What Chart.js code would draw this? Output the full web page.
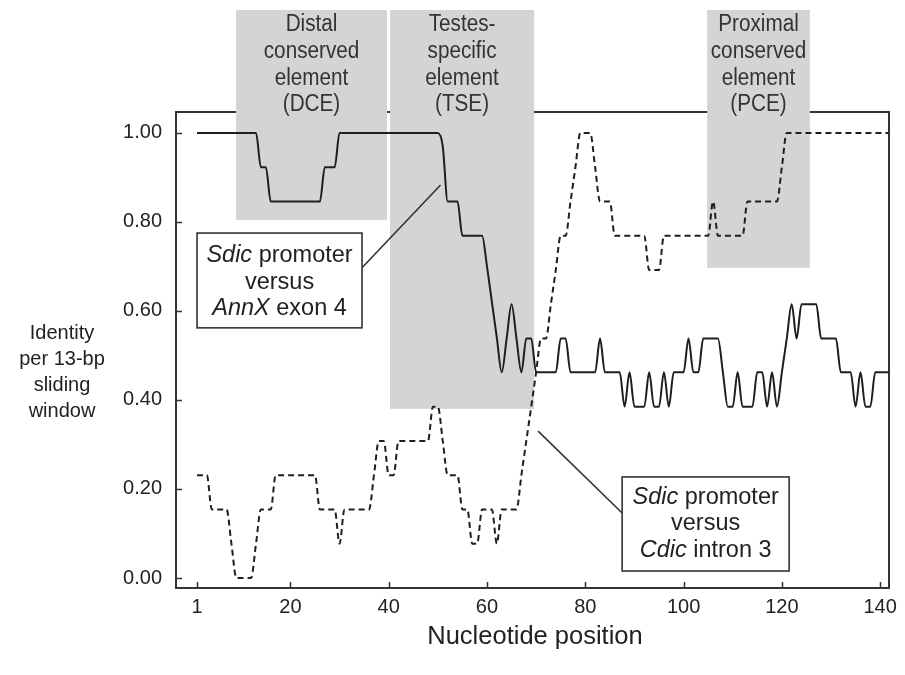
<!DOCTYPE html>
<html>
<head>
<meta charset="utf-8">
<title>Sdic promoter identity</title>
<script src="https://cdn.jsdelivr.net/npm/chart.js@4.4.1/dist/chart.umd.min.js"></script>
<style>
  html, body { margin: 0; padding: 0; background: #fff; }
  #wrap { width: 905px; height: 675px; }
</style>
</head>
<body>
<div id="wrap"><canvas id="chart" width="905" height="675"></canvas></div>
<script>
// identity per 13-bp sliding window, one value per nucleotide position (1..142)
const annxExon4 = [
  1, 1, 1, 1, 1, 1, 1, 1, 1, 1,
  1, 1, 1, 0.923, 0.923, 0.846, 0.846, 0.846, 0.846, 0.846,
  0.846, 0.846, 0.846, 0.846, 0.846, 0.846, 0.923, 0.923, 0.923, 1,
  1, 1, 1, 1, 1, 1, 1, 1, 1, 1,
  1, 1, 1, 1, 1, 1, 1, 1, 1, 1,
  0.97, 0.846, 0.846, 0.846, 0.769, 0.769, 0.769, 0.769, 0.769, 0.7,
  0.62, 0.54, 0.462, 0.538, 0.615, 0.538, 0.462, 0.538, 0.538, 0.462,
  0.462, 0.462, 0.462, 0.462, 0.538, 0.538, 0.462, 0.462, 0.462, 0.462,
  0.462, 0.462, 0.538, 0.462, 0.462, 0.462, 0.462, 0.385, 0.462, 0.385,
  0.385, 0.385, 0.462, 0.385, 0.385, 0.462, 0.385, 0.462, 0.462, 0.462,
  0.538, 0.462, 0.462, 0.538, 0.538, 0.538, 0.538, 0.462, 0.385, 0.385,
  0.462, 0.385, 0.385, 0.385, 0.462, 0.462, 0.385, 0.462, 0.385, 0.462,
  0.538, 0.615, 0.538, 0.615, 0.615, 0.615, 0.615, 0.538, 0.538, 0.538,
  0.538, 0.462, 0.462, 0.462, 0.385, 0.462, 0.385, 0.385, 0.462, 0.462,
  0.462, 0.462
];

const cdicIntron3 = [
  0.231, 0.231, 0.231, 0.154, 0.154, 0.154, 0.154, 0.077, 0, 0,
  0, 0, 0.077, 0.154, 0.154, 0.154, 0.231, 0.231, 0.231, 0.231,
  0.231, 0.231, 0.231, 0.231, 0.231, 0.154, 0.154, 0.154, 0.154, 0.077,
  0.154, 0.154, 0.154, 0.154, 0.154, 0.154, 0.231, 0.308, 0.308, 0.231,
  0.231, 0.308, 0.308, 0.308, 0.308, 0.308, 0.308, 0.308, 0.385, 0.385,
  0.308, 0.231, 0.231, 0.231, 0.154, 0.154, 0.077, 0.077, 0.154, 0.154,
  0.154, 0.077, 0.154, 0.154, 0.154, 0.154, 0.231, 0.308, 0.385, 0.462,
  0.538, 0.538, 0.615, 0.692, 0.769, 0.769, 0.846, 0.923, 1, 1,
  1, 0.923, 0.846, 0.846, 0.846, 0.769, 0.769, 0.769, 0.769, 0.769,
  0.769, 0.769, 0.692, 0.692, 0.692, 0.769, 0.769, 0.769, 0.769, 0.769,
  0.769, 0.769, 0.769, 0.769, 0.769, 0.846, 0.769, 0.769, 0.769, 0.769,
  0.769, 0.769, 0.846, 0.846, 0.846, 0.846, 0.846, 0.846, 0.846, 0.923,
  1, 1, 1, 1, 1, 1, 1, 1, 1, 1,
  1, 1, 1, 1, 1, 1, 1, 1, 1, 1,
  1, 1
];

const xTickValues = [1, 20, 40, 60, 80, 100, 120, 140];
const yTickValues = [0, 0.2, 0.4, 0.6, 0.8, 1.0];

// shaded sequence elements: nucleotide span and label
const elementSpans = [[8.93, 39.66], [40.27, 69.58], [104.8, 125.7]];
const elementLabels = [
  ["Distal", "conserved", "element", "(DCE)"],
  ["Testes-", "specific", "element", "(TSE)"],
  ["Proximal", "conserved", "element", "(PCE)"]
];

// callout texts: [text, italic]
const calloutTexts = [
  [[["Sdic", true], [" promoter", false]], [["versus", false]], [["AnnX", true], [" exon 4", false]]],
  [[["Sdic", true], [" promoter", false]], [["versus", false]], [["Cdic", true], [" intron 3", false]]]
];

const yTitleLines = ["Identity", "per 13-bp", "sliding", "window"];
const xTitle = "Nucleotide position";

const FONT = '"Liberation Sans", Arial, Helvetica, sans-serif';
const INK = "#222";

const toPoints = (arr) => arr.map((v, i) => ({ x: i + 1, y: v }));

const decor = {
  id: "decor",
  beforeDatasetsDraw(chart) {
    const { ctx, chartArea: a, scales } = chart;
    const x = scales.x, y = scales.y;
    ctx.save();
    // frame
    ctx.strokeStyle = "#333";
    ctx.lineWidth = 2;
    ctx.strokeRect(a.left, a.top, a.right - a.left, a.bottom - a.top);
    // inward tick marks
    ctx.lineWidth = 1.5;
    ctx.beginPath();
    yTickValues.forEach((v) => {
      const py = Math.round(y.getPixelForValue(v)) + 0.5;
      ctx.moveTo(a.left, py);
      ctx.lineTo(a.left + 6, py);
    });
    xTickValues.forEach((v) => {
      const px = Math.round(x.getPixelForValue(v)) + 0.5;
      ctx.moveTo(px, a.bottom);
      ctx.lineTo(px, a.bottom - 6);
    });
    ctx.stroke();

    // grey element boxes, reaching above the frame
    const bottoms = [0.804, 0.38, 0.697];
    const boxTop = 10;
    elementSpans.forEach((span, i) => {
      const l = x.getPixelForValue(span[0]);
      const r = x.getPixelForValue(span[1]);
      const b = y.getPixelForValue(bottoms[i]);
      ctx.fillStyle = "#d4d4d4";
      ctx.fillRect(l, boxTop, r - l, b - boxTop);
      ctx.fillStyle = "#333";
      ctx.font = "23px " + FONT;
      ctx.textAlign = "center";
      ctx.textBaseline = "middle";
      const cx = (l + r) / 2;
      elementLabels[i].forEach((t, j) => {
        ctx.save();
        ctx.translate(cx, 25 + j * 26.6);
        ctx.scale(0.9, 1);
        ctx.fillText(t, 0, 0);
        ctx.restore();
      });
    });
    ctx.restore();
  },
  afterDatasetsDraw(chart) {
    const { ctx, scales } = chart;
    const x = scales.x, y = scales.y;
    ctx.save();

    // callout boxes with leader lines (positions in data units)
    const boxes = [
      { l: 1.0, r: 34.57, t: 0.775, b: 0.562, from: [34.57, 0.697], to: [50.55, 0.883], dy: 2 },
      { l: 87.5, r: 121.48, t: 0.227, b: 0.0157, from: [87.5, 0.146], to: [70.4, 0.33], dy: 0 }
    ];
    boxes.forEach((bx, i) => {
      const l = x.getPixelForValue(bx.l), r = x.getPixelForValue(bx.r);
      const t = y.getPixelForValue(bx.t), b = y.getPixelForValue(bx.b);
      ctx.strokeStyle = "#333";
      ctx.lineWidth = 1.6;
      ctx.beginPath();
      ctx.moveTo(x.getPixelForValue(bx.from[0]), y.getPixelForValue(bx.from[1]));
      ctx.lineTo(x.getPixelForValue(bx.to[0]), y.getPixelForValue(bx.to[1]));
      ctx.stroke();
      ctx.fillStyle = "#fff";
      ctx.fillRect(l, t, r - l, b - t);
      ctx.strokeRect(l, t, r - l, b - t);

      ctx.fillStyle = INK;
      ctx.textBaseline = "middle";
      ctx.textAlign = "left";
      const cx = (l + r) / 2;
      const cy = (t + b) / 2 + bx.dy;
      calloutTexts[i].forEach((segs, j) => {
        let w = 0;
        segs.forEach(([s, it]) => {
          ctx.font = (it ? "italic " : "") + "23.5px " + FONT;
          w += ctx.measureText(s).width;
        });
        let px = cx - w / 2;
        const py = cy + (j - 1) * 26.5;
        segs.forEach(([s, it]) => {
          ctx.font = (it ? "italic " : "") + "23.5px " + FONT;
          ctx.fillText(s, px, py);
          px += ctx.measureText(s).width;
        });
      });
    });

    // axis titles
    ctx.fillStyle = INK;
    ctx.textAlign = "center";
    ctx.textBaseline = "middle";
    ctx.font = "20px " + FONT;
    yTitleLines.forEach((t, j) => ctx.fillText(t, 62, 333 + j * 26));
    ctx.font = "25.5px " + FONT;
    ctx.fillText(xTitle, 535, 637);
    ctx.restore();
  }
};

new Chart(document.getElementById("chart"), {
  type: "line",
  data: {
    datasets: [
      {
        label: "Sdic promoter versus AnnX exon 4",
        data: toPoints(annxExon4),
        borderColor: "#1e1e1e",
        borderWidth: 2,
        pointRadius: 0,
        cubicInterpolationMode: "monotone",
        fill: false
      },
      {
        label: "Sdic promoter versus Cdic intron 3",
        data: toPoints(cdicIntron3),
        borderColor: "#1e1e1e",
        borderWidth: 2,
        borderDash: [6, 4],
        pointRadius: 0,
        cubicInterpolationMode: "monotone",
        fill: false
      }
    ]
  },
  options: {
    responsive: false,
    animation: false,
    devicePixelRatio: 1,
    layout: { autoPadding: false, padding: { top: 112, right: 16, left: 0, bottom: 0 } },
    plugins: { legend: { display: false }, tooltip: { enabled: false } },
    scales: {
      x: {
        type: "linear",
        min: -3.28,
        max: 141.8,
        grid: { display: false, drawTicks: false },
        border: { display: false },
        afterBuildTicks: (s) => { s.ticks = xTickValues.map((v) => ({ value: v })); },
        afterFit: (s) => { s.height = 87; },
        ticks: {
          autoSkip: false,
          maxRotation: 0,
          padding: 7,
          color: INK,
          font: { family: FONT, size: 20 },
          callback: (v) => String(v)
        }
      },
      y: {
        min: -0.0225,
        max: 1.047,
        grid: { display: false, drawTicks: false },
        border: { display: false },
        afterBuildTicks: (s) => { s.ticks = yTickValues.map((v) => ({ value: v })); },
        afterFit: (s) => { s.width = 176; },
        ticks: {
          padding: 14,
          color: INK,
          font: { family: FONT, size: 20 },
          callback: (v) => Number(v).toFixed(2)
        }
      }
    }
  },
  plugins: [decor]
});
</script>
</body>
</html>
